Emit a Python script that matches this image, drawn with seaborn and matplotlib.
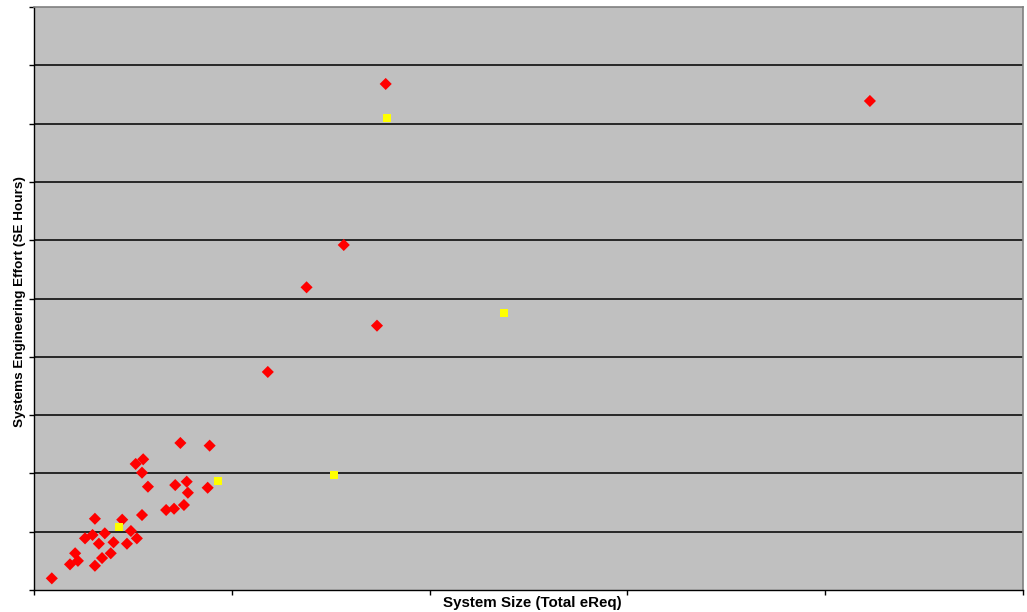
import numpy as np
import pandas as pd
import matplotlib
matplotlib.use("Agg")
import matplotlib.pyplot as plt
import seaborn as sns

# system size (eReq) vs systems engineering effort (hours)
red_size = [45, 91, 111, 104, 154, 172, 194, 129, 148, 164, 179, 201, 154,
            223, 245, 235, 260, 273, 257, 276, 273, 288, 334, 354, 379, 357,
            386, 389, 370, 444, 439, 889, 783, 689, 867, 591, 2113]
red_effort = [1000, 2200, 2500, 3150, 2080, 2740, 3150, 4430, 4720, 3970,
              4860, 4090, 6110, 6030, 5060, 3970, 4430, 6430, 10810, 11210,
              10060, 8860, 6860, 6970, 7290, 9000, 9290, 8340, 12610, 12380,
              8770, 43400, 29590, 25960, 22670, 18700, 41940]

yellow_size = [215, 465, 893, 1188, 758]
yellow_effort = [5430, 9350, 40480, 23780, 9860]

x_ticks = [0, 500, 1000, 1500, 2000, 2500]
y_ticks = list(range(0, 50001, 5000))

df = pd.concat([
    pd.DataFrame({"size": red_size, "effort": red_effort, "group": "red"}),
    pd.DataFrame({"size": yellow_size, "effort": yellow_effort, "group": "yellow"}),
])

plt.rcParams["font.family"] = ["Liberation Sans", "DejaVu Sans"]

fig, ax = plt.subplots(figsize=(10.27, 6.12), dpi=100)
fig.subplots_adjust(left=34 / 1027, right=1023 / 1027, top=1 - 7 / 612, bottom=1 - 590 / 612)

ax.set_facecolor("#C0C0C0")
ax.set_xlim(x_ticks[0], x_ticks[-1])
ax.set_ylim(y_ticks[0], y_ticks[-1])
ax.set_xticks(x_ticks)
ax.set_yticks(y_ticks)
ax.set_xticklabels([])
ax.set_yticklabels([])
ax.tick_params(direction="out", length=3.5, width=1, color="black")

for y in y_ticks[1:-1]:
    ax.axhline(y, color="#1a1a1a", lw=1.3, zorder=1)

sns.scatterplot(
    data=df, x="size", y="effort", hue="group", style="group",
    palette={"red": "#FF0000", "yellow": "#FFFF00"},
    markers={"red": "D", "yellow": "s"},
    size="group", sizes={"red": 38, "yellow": 34},
    linewidth=0, legend=False, ax=ax, zorder=3,
)

for side in ("top", "right"):
    ax.spines[side].set_color("#808080")
    ax.spines[side].set_linewidth(1.2)
for side in ("left", "bottom"):
    ax.spines[side].set_color("black")
    ax.spines[side].set_linewidth(1)

ax.set_xlabel("System Size (Total eReq)", fontsize=10.9, fontweight="bold")
ax.set_ylabel("Systems Engineering Effort (SE Hours)", fontsize=9.7, fontweight="bold")
ax.xaxis.set_label_coords(0.504, -0.011, transform=ax.transAxes)
ax.xaxis.label.set_va("top")
ax.yaxis.set_label_coords(-0.0085, 0.495, transform=ax.transAxes)
ax.yaxis.label.set_va("bottom")

fig.savefig("out.png", dpi=100)
